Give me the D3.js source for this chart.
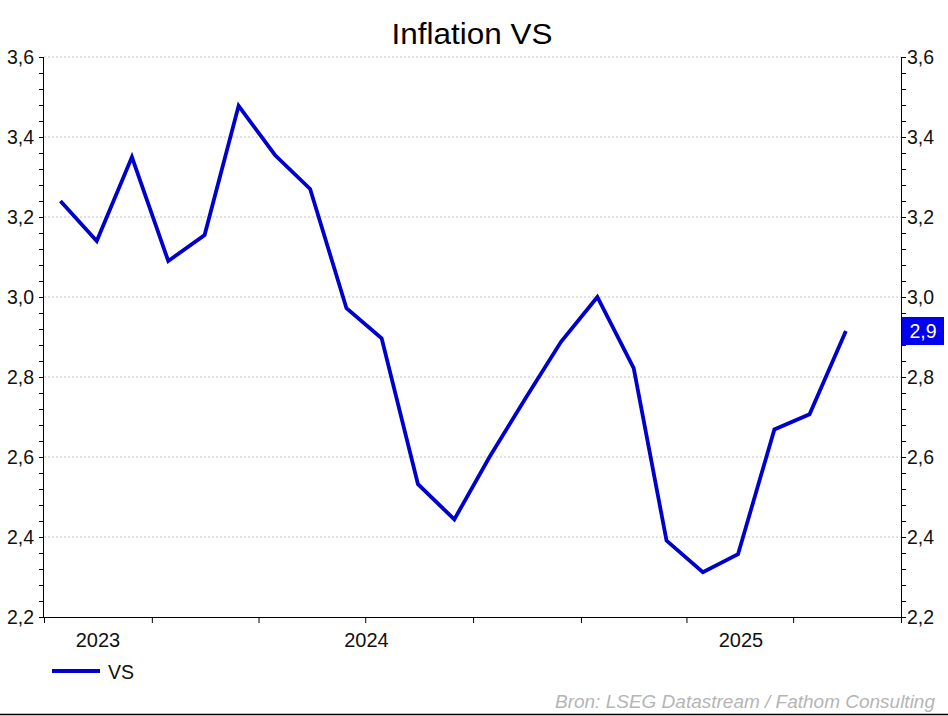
<!DOCTYPE html>
<html>
<head>
<meta charset="utf-8">
<script src="https://cdn.jsdelivr.net/npm/d3@7"></script>
<style>
  html, body { margin: 0; padding: 0; background: #fff; }
  svg { display: block; font-family: "Liberation Sans", Arial, sans-serif; }
</style>
</head>
<body>
<svg id="chart" width="948" height="716"></svg>
<script>
// ---- Data (US CPI inflation y/y, %) ----
const months = ["2023-10","2023-11","2023-12","2024-01","2024-02","2024-03","2024-04","2024-05","2024-06","2024-07","2024-08","2024-09","2024-10","2024-11","2024-12","2025-01","2025-02","2025-03","2025-04","2025-05","2025-06","2025-07","2025-08"];
const vsValues = [3.24, 3.14, 3.35, 3.09, 3.155, 3.478, 3.355, 3.27, 2.972, 2.897, 2.532, 2.444, 2.60, 2.748, 2.888, 3.00, 2.822, 2.391, 2.312, 2.357, 2.669, 2.707, 2.915];
const yTickValues = [2.2, 2.4, 2.6, 2.8, 3.0, 3.2, 3.4, 3.6];
const yearLabels = ["2023", "2024", "2025"];
const seriesName = "VS";
const titleText = "Inflation VS";
const sourceText = "Bron: LSEG Datastream / Fathom Consulting";

(function () {
const parseMonth = d3.timeParse("%Y-%m");
const data = months.map((m, i) => ({ date: d3.timeDay.offset(parseMonth(m), 14), value: vsValues[i] }));

const svg = d3.select("#chart");
const pLeft = 44, pRight = 901, pTop = 57, pBottom = 617;

const x = d3.scaleTime()
  .domain([new Date(2023, 9, 1), new Date(2025, 9, 1)])
  .range([pLeft, pRight]);
const y = d3.scaleLinear().domain([2.2, 3.6]).range([pBottom, pTop]);
const fmt = v => d3.format(".1f")(v).replace(".", ",");

// Title
svg.append("text")
  .attr("x", 472).attr("y", 44)
  .attr("text-anchor", "middle")
  .attr("font-size", 29)
  .attr("textLength", 161).attr("lengthAdjust", "spacingAndGlyphs")
  .attr("fill", "#000")
  .text(titleText);

// Gridlines
svg.append("g").selectAll("line")
  .data(yTickValues.filter(v => v > 2.2))
  .join("line")
  .attr("x1", pLeft).attr("x2", pRight)
  .attr("y1", d => y(d)).attr("y2", d => y(d))
  .attr("stroke", "#c4c4c4").attr("stroke-width", 1)
  .attr("stroke-dasharray", "2,2");

// Minor ticks values
const minorTicks = d3.range(0, 36).map(i => +(2.2 + i * 0.04).toFixed(2));

// Left axis
const leftAxis = d3.axisLeft(y).tickValues(minorTicks).tickSize(5).tickFormat("");
const gl = svg.append("g").attr("transform", `translate(${pLeft},0)`).call(leftAxis);
gl.select(".domain").attr("stroke", "#000").attr("d", `M-0.5,${pTop}V${pBottom}`);
gl.selectAll(".tick line").attr("stroke", "#000");
svg.append("g").selectAll("text")
  .data(yTickValues).join("text")
  .attr("x", 34).attr("y", d => y(d) + 6.5)
  .attr("text-anchor", "end")
  .attr("font-size", 19.5)
  .attr("fill", "#111")
  .text(fmt);

// Right axis
const rightAxis = d3.axisRight(y).tickValues(minorTicks).tickSize(5).tickFormat("");
const gr = svg.append("g").attr("transform", `translate(${pRight},0)`).call(rightAxis);
gr.select(".domain").attr("stroke", "#000").attr("d", `M0.5,${pTop}V${pBottom}`);
gr.selectAll(".tick line").attr("stroke", "#000");
svg.append("g").selectAll("text")
  .data(yTickValues).join("text")
  .attr("x", 907).attr("y", d => y(d) + 6.5)
  .attr("text-anchor", "start")
  .attr("font-size", 19.5)
  .attr("fill", "#111")
  .text(fmt);

// Bottom axis
const xAxis = d3.axisBottom(x).ticks(d3.timeMonth.every(3)).tickSize(6).tickFormat("");
const gx = svg.append("g").attr("transform", `translate(0,${pBottom})`).call(xAxis);
gx.select(".domain").attr("stroke", "#000").attr("d", `M${pLeft},0.5H${pRight}`);
gx.selectAll(".tick line").attr("stroke", "#000");

// Year labels centered in visible span of each year
const [d0, d1] = x.domain();
svg.append("g").selectAll("text")
  .data(yearLabels).join("text")
  .attr("x", yr => {
    const s = new Date(+yr, 0, 1), e = new Date(+yr + 1, 0, 1);
    const a = x(s < d0 ? d0 : s), b = x(e > d1 ? d1 : e);
    return (a + b) / 2;
  })
  .attr("y", 647)
  .attr("text-anchor", "middle")
  .attr("font-size", 20)
  .attr("fill", "#111")
  .text(d => d);

// Line
const line = d3.line().x(d => x(d.date)).y(d => y(d.value));
svg.append("path")
  .datum(data)
  .attr("d", line)
  .attr("fill", "none")
  .attr("stroke", "#0000cc")
  .attr("stroke-width", 3.8)
  .attr("stroke-linejoin", "miter");

// Last value label
const last = data[data.length - 1];
const ly = y(last.value);
svg.append("rect")
  .attr("x", pRight + 1).attr("y", ly - 14)
  .attr("width", 42).attr("height", 28)
  .attr("fill", "#0000ee");
svg.append("text")
  .attr("x", pRight + 22).attr("y", ly + 7)
  .attr("text-anchor", "middle")
  .attr("font-size", 19.5)
  .attr("fill", "#fff")
  .text(fmt(last.value));

// Legend
svg.append("line")
  .attr("x1", 52).attr("x2", 100).attr("y1", 671).attr("y2", 671)
  .attr("stroke", "#0000cc").attr("stroke-width", 4);
svg.append("text")
  .attr("x", 108).attr("y", 678.5)
  .attr("font-size", 19.5)
  .attr("fill", "#111")
  .text(seriesName);

// Source
svg.append("text")
  .attr("x", 935).attr("y", 708)
  .attr("text-anchor", "end")
  .attr("font-size", 18)
  .attr("font-style", "italic")
  .attr("textLength", 380).attr("lengthAdjust", "spacingAndGlyphs")
  .attr("fill", "#b5b5b5")
  .text(sourceText);

// Bottom border
svg.append("line")
  .attr("x1", 0).attr("x2", 948).attr("y1", 714.5).attr("y2", 714.5)
  .attr("stroke", "#000").attr("stroke-width", 1.5);
})();
</script>
</body>
</html>
